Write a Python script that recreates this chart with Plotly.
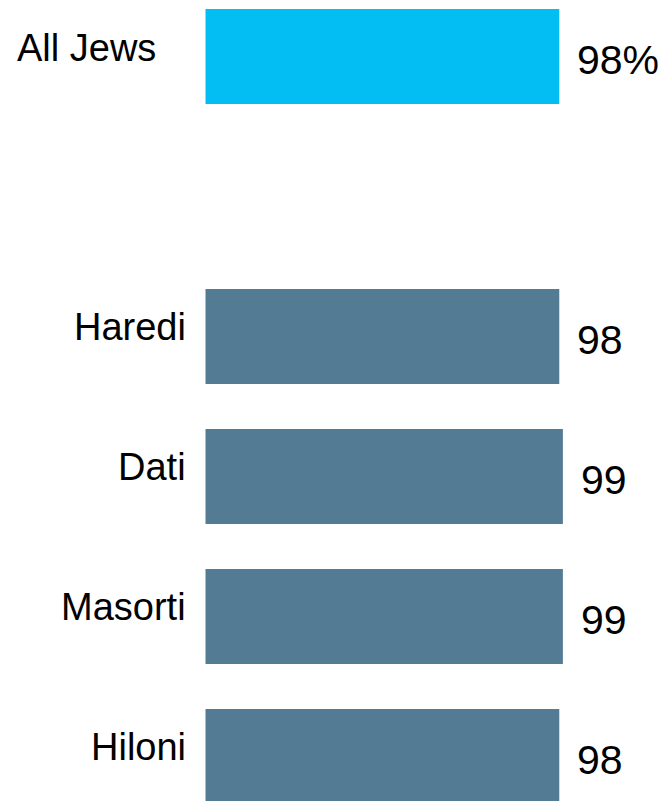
import plotly.graph_objects as go

# Data
categories = ["All Jews", " ", "Haredi", "Dati", "Masorti", "Hiloni"]
values = [98, None, 98, 99, 99, 98]
value_labels = ["98%", "", "98", "99", "99", "98"]
bar_colors = ["#02BEF3", "#537B94", "#537B94", "#537B94", "#537B94", "#537B94"]

fig = go.Figure()
fig.add_trace(go.Bar(
    x=values,
    y=categories,
    orientation="h",
    marker=dict(color=bar_colors, line=dict(width=0)),
    width=0.68,
    hoverinfo="skip",
))

FONT = "Liberation Sans, Arial, sans-serif"
PX_PER_UNIT = 3.61
LEFT0 = 205.5
W, H = 663, 801

annotations = []
for i, (cat, val, lab) in enumerate(zip(categories, values, value_labels)):
    if val is None:
        continue
    if i == 0:
        annotations.append(dict(
            x=(15 - LEFT0) / PX_PER_UNIT, y=cat, xref="x", yref="y",
            text=cat, showarrow=False, xanchor="left", yanchor="middle",
            yshift=9, font=dict(family=FONT, size=38, color="#000000")))
    else:
        annotations.append(dict(
            x=(188 - LEFT0) / PX_PER_UNIT, y=cat, xref="x", yref="y",
            text=cat, showarrow=False, xanchor="right", yanchor="middle",
            yshift=10, font=dict(family=FONT, size=38, color="#000000")))
    annotations.append(dict(
        x=val + 16 / PX_PER_UNIT, y=cat, xref="x", yref="y",
        text=lab, showarrow=False, xanchor="left", yanchor="middle",
        yshift=-3, font=dict(family=FONT, size=41, color="#000000")))

fig.update_layout(
    width=W, height=H,
    margin=dict(l=0, r=0, t=0, b=0),
    paper_bgcolor="white", plot_bgcolor="white",
    showlegend=False,
    xaxis=dict(range=[-LEFT0 / PX_PER_UNIT, (W - LEFT0) / PX_PER_UNIT],
               visible=False, showgrid=False, zeroline=False),
    yaxis=dict(type="category", categoryorder="array", categoryarray=categories,
               range=[(H - 56.5) / 140, -56.5 / 140],
               visible=False, showgrid=False, zeroline=False),
    annotations=annotations,
)

fig.write_html(
    "out.html",
    config={"displayModeBar": False},
    post_script="document.body.style.margin='0';document.body.style.overflow='hidden';"
                "document.documentElement.style.overflow='hidden';",
)
